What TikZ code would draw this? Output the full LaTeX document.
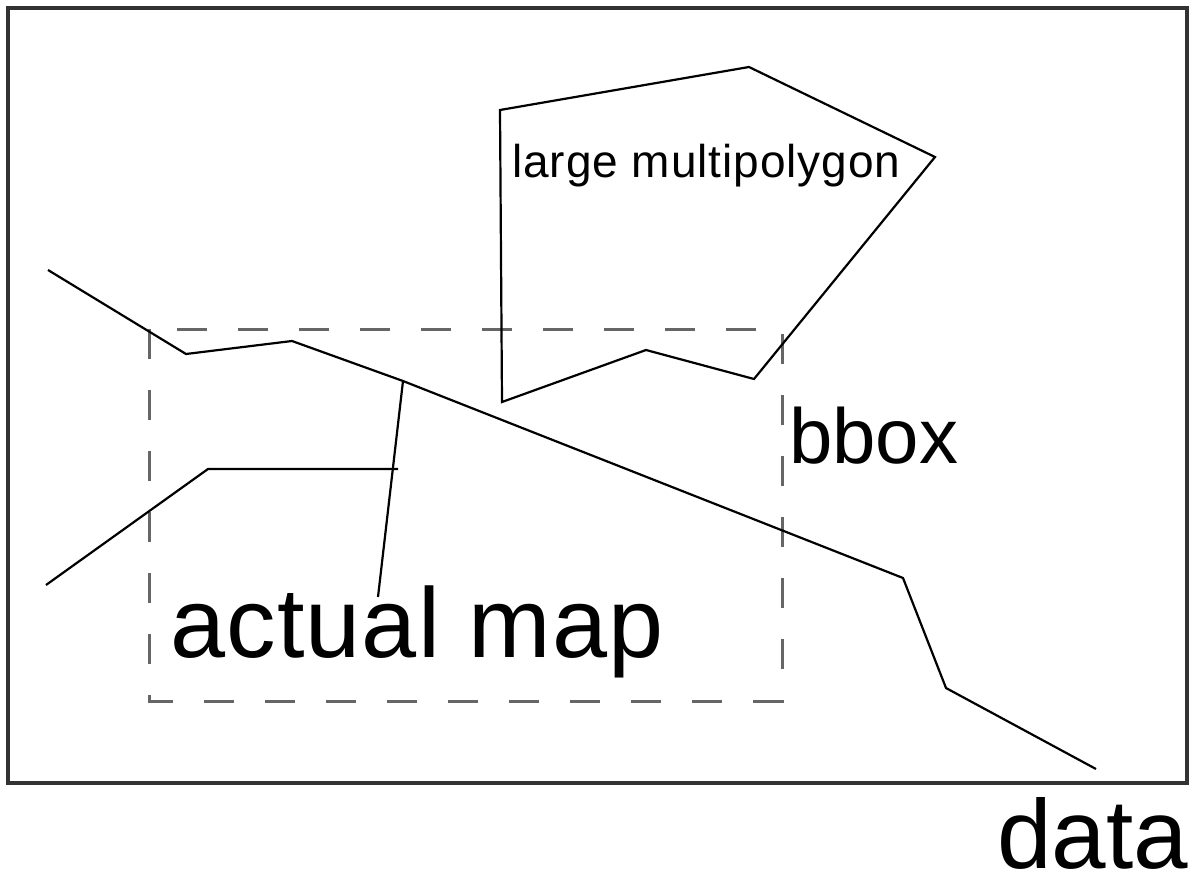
\documentclass[tikz,border=0pt]{standalone}
\usepackage{fontspec}
\setmainfont{Liberation Sans}
\tikzset{
  frame/.style={draw=black!80, line width=3.5pt},
  bboxline/.style={draw=black!60, line width=3pt, dash pattern=on 30pt off 31pt},
  way/.style={draw=black, line width=2.2pt, line join=miter},
  lbl/.style={anchor=base west, inner sep=0pt, text=black}
}
\begin{document}
\begin{tikzpicture}[x=1pt,y=-1pt]
\useasboundingbox (0,0) rectangle (1195,875);
% outer data frame
\draw[frame] (8,8) rectangle (1187,783);
% bbox
\draw[bboxline] (149,329) rectangle (782,701);
% multipolygon
\draw[way] (500,110) -- (749,67) -- (935,157) -- (754,379) -- (646,350) -- (502,402) -- cycle;
% main way
\coordinate (j) at (403,381);
\draw[way] (48,270) -- (186,354) -- (292,341) -- (j) -- (903,578) -- (946,688) -- (1096,769);
% branch
\draw[way] (j) -- (378,597);
% lower way
\draw[way] (46,585) -- (208,469) -- (398,469);
% labels
\node[lbl, font=\fontsize{46}{46}\selectfont\addfontfeatures{LetterSpace=2}] (lm) at (512,177) {large multipolygon};
\node[lbl, font=\fontsize{78}{78}\selectfont] (bb) at (789,463) {bbox};
\node[lbl, font=\fontsize{99}{99}\selectfont\addfontfeatures{LetterSpace=1.2}] (am) at (170,657) {actual map};
\node[lbl, font=\fontsize{98}{98}\selectfont] (dt) at (997,868) {data};
\end{tikzpicture}
\end{document}
